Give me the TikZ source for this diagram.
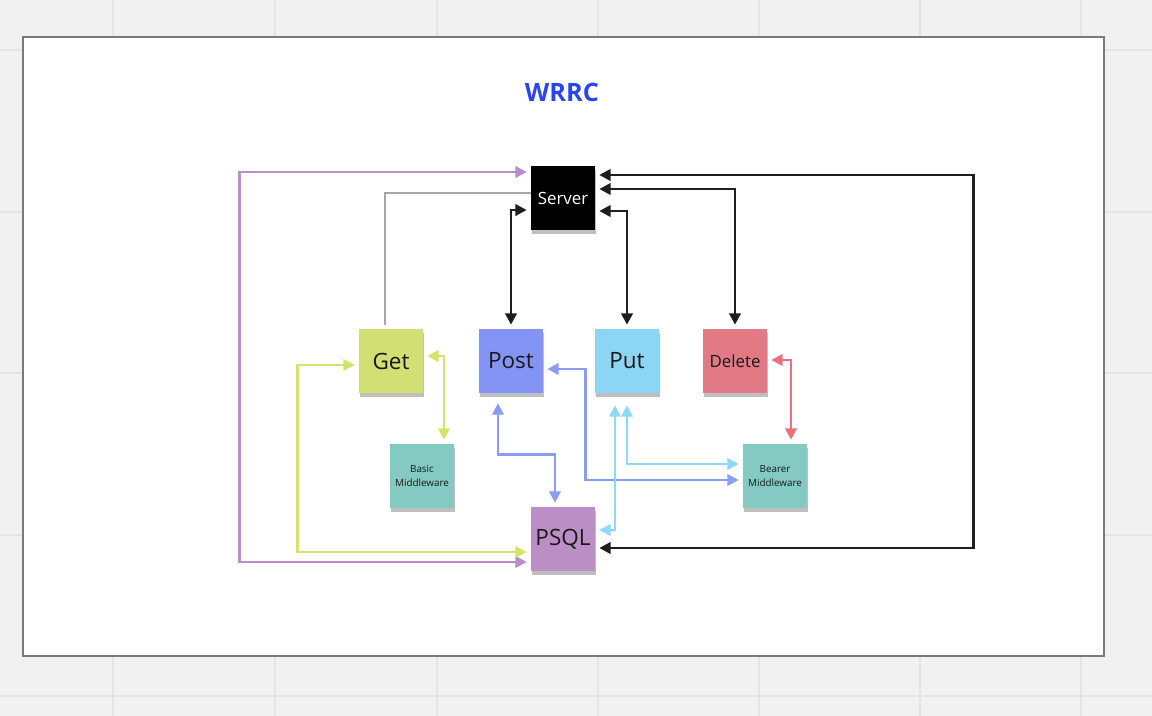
\documentclass[tikz,border=0pt]{standalone}
\usepackage{fontspec}
\setmainfont{Open Sans}
\usetikzlibrary{arrows.meta,calc,shadows}
\definecolor{canvas}{HTML}{F1F1F1}
\definecolor{gridgray}{HTML}{E4E4E4}
\definecolor{framegray}{HTML}{7A7A7A}
\definecolor{titleblue}{HTML}{2A44F5}
\definecolor{getgreen}{HTML}{D2DF72}
\definecolor{postblue}{HTML}{8494F5}
\definecolor{putblue}{HTML}{8DD5F4}
\definecolor{delred}{HTML}{E27A85}
\definecolor{mwteal}{HTML}{84C9C2}
\definecolor{psqlpurple}{HTML}{BB8FC6}
\definecolor{linkpurple}{HTML}{B98CCB}
\definecolor{linkgreen}{HTML}{D6E36A}
\definecolor{linkblue}{HTML}{8B9CF7}
\definecolor{linklight}{HTML}{8FD8F7}
\definecolor{linkred}{HTML}{EC6F7C}
\definecolor{linkblack}{HTML}{1E1E1E}

\begin{document}
\begin{tikzpicture}[x=0.025cm,y=-0.025cm,
    note/.style={minimum size=1.6cm,inner sep=0pt,align=center,text=black!90,
      font=\fontsize{16}{18}\selectfont,
      drop shadow={shadow xshift=1pt,shadow yshift=-2.5pt,opacity=.25,fill=black}},
    smallnote/.style={note,font=\fontsize{7}{9.5}\selectfont},
    link/.style={line width=1.8pt,{Triangle[length=8pt,width=8pt]}-{Triangle[length=8pt,width=8pt]}},
    blacklink/.style={link,line width=2pt,draw=linkblack}]
  \useasboundingbox (0,0) rectangle (1152,716);
  \fill[canvas] (0,0) rectangle (1152,716);
  \foreach \gx in {113,275,437,598,759,920,1081}
    \draw[gridgray,line width=1.4pt] (\gx,0) -- (\gx,716);
  \foreach \gy in {50,212,373,535,696}
    \draw[gridgray,line width=1.4pt] (0,\gy) -- (1152,\gy);
  \draw[framegray,fill=white,line width=1pt] (23,37) rectangle (1104,656);

  \node[font=\fontsize{18}{20}\selectfont\bfseries,text=titleblue] (title) at (562,92) {WRRC};

  \node[note,fill=black,text=white,font=\fontsize{12}{14}\selectfont] (srv) at (563,198) {Server};
  \node[note,fill=getgreen] (get) at (391,361) {Get};
  \node[note,fill=postblue] (post) at (511,361) {Post};
  \node[note,fill=putblue] (put) at (627,361) {Put};
  \node[note,fill=delred,font=\fontsize{12}{14}\selectfont] (del) at (735,361) {Delete};
  \node[smallnote,fill=mwteal] (basic) at (422,476) {Basic\\Middleware};
  \node[smallnote,fill=mwteal] (bearer) at (775,476) {Bearer\\Middleware};
  \node[note,fill=psqlpurple] (psql) at (563,539) {PSQL};

  \draw[link,draw=linkpurple] ($(srv.west)+(-4,-26)$) -- ++(-287,0) |- ($(psql.west)+(-4,23)$);
  \draw[gray!70,line width=0.9pt] ($(srv.west)+(0,-5)$) -| ($(get.north)+(-6,-4)$);
  \draw[blacklink] ($(srv.west)+(-4,12)$) -| ($(post.north)+(0,-4)$);
  \draw[blacklink] ($(srv.east)+(4,13)$) -| ($(put.north)+(0,-4)$);
  \draw[blacklink] ($(srv.east)+(4,-9)$) -| ($(del.north)+(0,-4)$);
  \draw[blacklink] ($(srv.east)+(4,-23)$) -- ++(374,0) |- ($(psql.east)+(4,9)$);
  \draw[link,draw=linkgreen] ($(get.west)+(-4,4)$) -- ++(-57,0) |- ($(psql.west)+(-4,13)$);
  \draw[link,draw=linkgreen] ($(get.east)+(4,-5)$) -| ($(basic.north)+(22,-4)$);
  \draw[link,draw=linkblue] ($(post.south)+(-13,10)$) -- ++(0,51) -| ($(psql.north)+(-8,-4)$);
  \draw[link,draw=linkblue] ($(post.east)+(4,8)$) -- ++(38,0) |- ($(bearer.west)+(-4,4)$);
  \draw[link,draw=linklight] ($(put.south)+(0,12)$) |- ($(bearer.west)+(-4,-12)$);
  \draw[link,draw=linklight] ($(put.south)+(-12,12)$) |- ($(psql.east)+(4,-9)$);
  \draw[link,draw=linkred] ($(del.east)+(4,-1)$) -| ($(bearer.north)+(16,-4)$);
\end{tikzpicture}
\end{document}
